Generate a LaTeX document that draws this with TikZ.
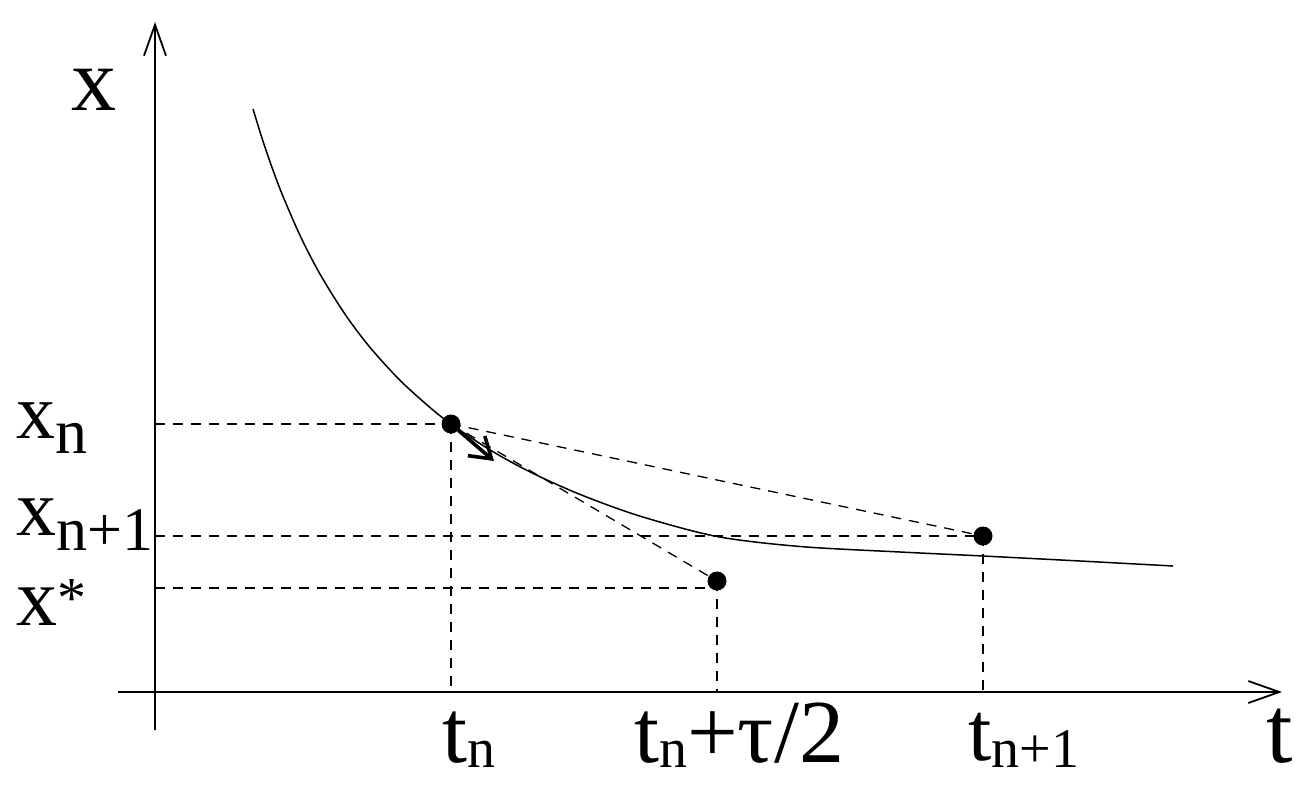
\documentclass[tikz,border=0pt]{standalone}
\usepackage{fontspec}
\setmainfont{Liberation Serif}
\usetikzlibrary{arrows.meta}
\newcommand{\fs}[1]{\fontsize{#1}{#1}\selectfont}
\begin{document}
\begin{tikzpicture}[x=1pt,y=-1pt,
  axisline/.style={line width=1.8pt,-{Straight Barb[length=31pt,width=22pt,line width=1.8pt]}},
  curveline/.style={line width=1.5pt},
  guide/.style={line width=1.3pt,dash pattern=on 10pt off 8pt},
  tangent/.style={line width=3.6pt,-{Straight Barb[length=20pt,width=26pt,line width=3.6pt]}},
  dot/.style={circle,fill=black,minimum size=19pt,inner sep=0pt},
  lbl/.style={inner sep=0pt,anchor=base west}]
\useasboundingbox (0,0) rectangle (1302,801);
% axes
\coordinate (yb) at (155,730);
\coordinate (yt) at (155,22);
\coordinate (xb) at (118,692);
\coordinate (xt) at (1282,692);
\draw[axisline] (yb) -- (yt);
\draw[axisline] (xb) -- (xt);
% curve
\draw[curveline] plot[smooth,tension=0.5] coordinates {(253,109) (265,147.3) (280,188.9) (300,235.4) (320,274.1) (345,314.2) (370,347.4) (400,380.3) (430,407.5) (451,424) (490,449.9) (530,471.9) (580,494.4) (640,516.1) (717,536.5) (800,546.5) (900,552) (983,556) (1080,561) (1173,566)};
% points
\node[dot] (A) at (451,424) {};
\node[dot] (B) at (717,581) {};
\node[dot] (C) at (983,536) {};
\coordinate (Ay) at (155,424);
\coordinate (Ax) at (451,692);
\coordinate (By) at (155,588);
\coordinate (Bh) at (717,588);
\coordinate (Bx) at (717,692);
\coordinate (Cy) at (155,536);
\coordinate (Cx) at (983,692);
% guides
\draw[guide] (Ay) -- (A.center);
\draw[guide] (A.center) -- (Ax);
\draw[guide] (A.center) -- (C.center);
\draw[guide] (A.center) -- (B.center);
\draw[guide] (By) -- (Bh);
\draw[guide] (B.center) -- (Bx);
\draw[guide] (Cy) -- (C.center);
\draw[guide] (C.center) -- (Cx);
% tangent arrow
\coordinate (T) at (494,461);
\draw[tangent] (A) -- (T);
% labels
\node[lbl,font=\fs{90}] (lx) at (71,110) {x};
\node[lbl,font=\fs{78}] (lxn) at (16,438) {x\raisebox{-15pt}{\fs{64}n}};
\node[lbl,font=\fs{80}] (lxn1) at (16,535) {x\raisebox{-15pt}{\fs{62}n+1}};
\node[lbl,font=\fs{82}] (lxs) at (16,625) {x\raisebox{8pt}{\fs{58}*}};
\node[lbl,font=\fs{90}] (ltn) at (442,762) {t\raisebox{-5pt}{\fs{56}n}};
\node[lbl,font=\fs{90}] (ltm) at (634,762) {t\raisebox{-5pt}{\fs{56}n}+τ/2};
\node[lbl,font=\fs{84}] (ltn1) at (968,760) {t\raisebox{-7pt}{\fs{56}n+1}};
\node[lbl,font=\fs{95}] (lt) at (1266,762) {t};
\end{tikzpicture}
\end{document}
